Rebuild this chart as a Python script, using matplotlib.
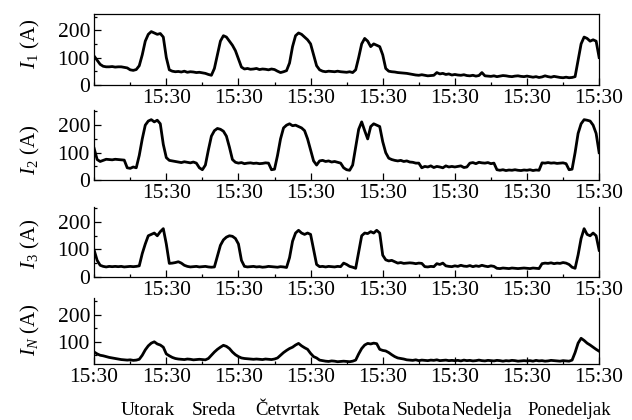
import matplotlib

matplotlib.use("Agg")
import matplotlib.pyplot as plt
import matplotlib.transforms as mtransforms
from matplotlib.ticker import MultipleLocator, FixedLocator, NullFormatter

plt.rcParams["font.family"] = "Liberation Serif"
plt.rcParams["mathtext.fontset"] = "custom"
plt.rcParams["mathtext.rm"] = "Liberation Serif"
plt.rcParams["mathtext.it"] = "Liberation Serif:italic"

# hourly currents, Monday 15:30 -> next Monday 15:30 (169 samples)
hours = list(range(169))

i1 = [105, 90, 75, 68, 66, 66, 67, 65, 66, 66, 64, 62, 55, 53, 56, 70, 110, 160, 185, 195, 190, 185, 188, 175,
      100, 55, 50, 48, 49, 47, 50, 46, 48, 47, 45, 46, 44, 42, 38, 35, 60, 110, 160, 180, 175, 160, 145, 125,
      95, 65, 58, 60, 57, 58, 60, 56, 58, 57, 55, 58, 56, 50, 45, 48, 52, 80, 140, 180, 190, 185, 175, 165,
      150, 110, 70, 55, 50, 48, 50, 49, 48, 50, 48, 47, 46, 48, 45, 55, 100, 150, 170, 160, 140, 150, 145, 140,
      110, 60, 50, 48, 47, 45, 44, 43, 42, 40, 38, 36, 35, 37, 35, 33, 34, 35, 45, 40, 42, 38, 40, 36,
      38, 36, 35, 37, 34, 33, 35, 32, 34, 45, 33, 32, 31, 33, 30, 32, 34, 33, 31, 30, 32, 33, 31, 30,
      32, 30, 28, 30, 27, 29, 33, 30, 28, 31, 29, 27, 26, 28, 26, 27, 30, 90, 150, 175, 170, 160, 165, 160,
      100]

i2 = [115, 75, 68, 72, 76, 75, 74, 76, 75, 74, 73, 45, 43, 48, 45, 90, 150, 200, 215, 220, 212, 218, 205, 130,
      82, 72, 70, 68, 66, 64, 67, 65, 63, 66, 62, 45, 38, 55, 110, 160, 180, 188, 185, 178, 160, 120, 75, 65,
      62, 64, 60, 62, 63, 61, 62, 60, 61, 63, 62, 38, 40, 90, 150, 190, 200, 205, 198, 200, 195, 190, 180, 150,
      110, 70, 55, 70, 72, 68, 70, 66, 68, 65, 62, 45, 38, 36, 55, 120, 185, 212, 180, 150, 195, 205, 200, 195,
      140, 100, 80, 75, 72, 70, 72, 68, 70, 66, 65, 62, 62, 45, 50, 48, 52, 46, 50, 48, 45, 52, 48, 50,
      48, 50, 52, 46, 48, 62, 64, 60, 65, 63, 62, 64, 60, 62, 38, 36, 38, 35, 37, 36, 38, 36, 35, 37,
      36, 38, 35, 37, 36, 63, 62, 64, 62, 63, 61, 62, 63, 60, 38, 40, 100, 170, 205, 220, 218, 215, 200, 170,
      100]

i3 = [97, 60, 42, 38, 36, 38, 37, 38, 37, 38, 36, 37, 38, 37, 38, 40, 85, 120, 150, 155, 160, 150, 165, 176,
      120, 49, 50, 52, 55, 50, 42, 38, 36, 37, 38, 36, 37, 38, 36, 35, 36, 75, 115, 135, 145, 150, 148, 140,
      120, 60, 38, 36, 37, 38, 36, 37, 35, 36, 38, 37, 36, 35, 37, 36, 34, 70, 130, 160, 170, 160, 155, 160,
      155, 100, 45, 37, 38, 36, 38, 37, 36, 38, 37, 50, 45, 38, 35, 31, 90, 150, 160, 158, 165, 160, 170, 160,
      79, 62, 58, 60, 55, 50, 52, 49, 50, 51, 50, 48, 50, 49, 37, 36, 38, 37, 48, 45, 50, 40, 38, 37,
      40, 38, 42, 39, 38, 41, 37, 40, 38, 42, 39, 37, 40, 38, 31, 30, 32, 31, 30, 32, 31, 30, 31, 32,
      31, 30, 32, 31, 30, 48, 50, 49, 51, 48, 50, 49, 52, 50, 45, 35, 31, 80, 140, 176, 155, 150, 160, 150,
      97]

i_n = [62, 55, 50, 48, 45, 42, 40, 38, 36, 34, 33, 32, 33, 31, 32, 35, 50, 70, 85, 95, 100, 92, 88, 80,
       55, 48, 42, 38, 36, 35, 34, 36, 35, 33, 34, 35, 34, 33, 38, 50, 62, 72, 80, 87, 83, 75, 62, 52,
       45, 40, 38, 37, 36, 35, 36, 35, 34, 36, 35, 34, 36, 40, 50, 60, 68, 75, 80, 88, 94, 85, 78, 72,
       57, 45, 40, 32, 30, 28, 27, 29, 28, 26, 27, 28, 27, 26, 28, 32, 55, 75, 88, 94, 92, 95, 93, 72,
       68, 66, 60, 52, 45, 40, 38, 36, 33, 32, 31, 33, 30, 32, 31, 30, 32, 31, 33, 30, 31, 32, 30, 31,
       30, 31, 29, 32, 30, 31, 29, 30, 32, 30, 29, 31, 30, 29, 31, 30, 28, 30, 29, 31, 30, 28, 29, 30,
       29, 30, 28, 31, 29, 30, 28, 29, 31, 30, 29, 28, 30, 29, 28, 32, 60, 95, 113, 105, 95, 88, 80, 72,
       65]

ylabels = [r"$I_{\mathit{1}}$ (A)", r"$I_{\mathit{2}}$ (A)", r"$I_{\mathit{3}}$ (A)", r"$I_N$ (A)"]
days = ["Utorak", "Sreda", "Četvrtak", "Petak", "Subota", "Nedelja", "Ponedeljak"]
day_pos = [17.8, 39.8, 64.4, 89.8, 109.8, 128.8, 158.1]
day_size = [14, 14, 13.5, 14, 14, 14, 13.5]

fig = plt.figure(figsize=(6.32, 4.2), dpi=100)

# [left, bottom, width, height] for each strip
rects = [
    [0.149, 0.798, 0.799, 0.169],
    [0.149, 0.571, 0.799, 0.167],
    [0.149, 0.341, 0.799, 0.166],
    [0.149, 0.133, 0.799, 0.157],
]
ylims = [(0, 260), (0, 255), (0, 255), (17, 262)]
label_y = [0.57, 0.43, 0.47, 0.52]

axes = []
for k, (series, rect) in enumerate(zip([i1, i2, i3, i_n], rects)):
    ax = fig.add_axes(rect)
    ax.plot(hours, series, color="black", linewidth=2.0)
    ax.set_xlim(0, 168)
    ax.set_ylim(*ylims[k])

    ticks = list(range(0, 169, 24)) if k == 3 else list(range(24, 169, 24))
    ax.xaxis.set_major_locator(FixedLocator(ticks))
    ax.set_xticklabels(["15:30"] * len(ticks))
    # half-day ticks (and the unlabeled left edge on the upper strips)
    ax.xaxis.set_minor_locator(FixedLocator([h for h in range(0, 169, 12) if h not in ticks]))
    ax.xaxis.set_minor_formatter(NullFormatter())

    ax.yaxis.set_major_locator(MultipleLocator(100))
    ax.yaxis.set_minor_locator(MultipleLocator(50))

    ax.tick_params(which="both", direction="in", top=False, right=False,
                   labelsize=15.5, width=0.9)
    ax.tick_params(which="major", length=5, pad=3)
    ax.tick_params(which="minor", length=2.5)
    for s in ax.spines.values():
        s.set_linewidth(0.9)
    if k > 0:
        ax.spines["top"].set_visible(False)

    ax.set_ylabel(ylabels[k], fontsize=15)
    ax.yaxis.set_label_coords(-0.103, label_y[k])
    axes.append(ax)

# day names under the bottom strip
ax = axes[-1]
trans = mtransforms.blended_transform_factory(ax.transData, ax.transAxes)
for name, x, size in zip(days, day_pos, day_size):
    ax.text(x, -0.70, name, transform=trans, ha="center", va="center", fontsize=size)

fig.savefig("out.png", dpi=100)
